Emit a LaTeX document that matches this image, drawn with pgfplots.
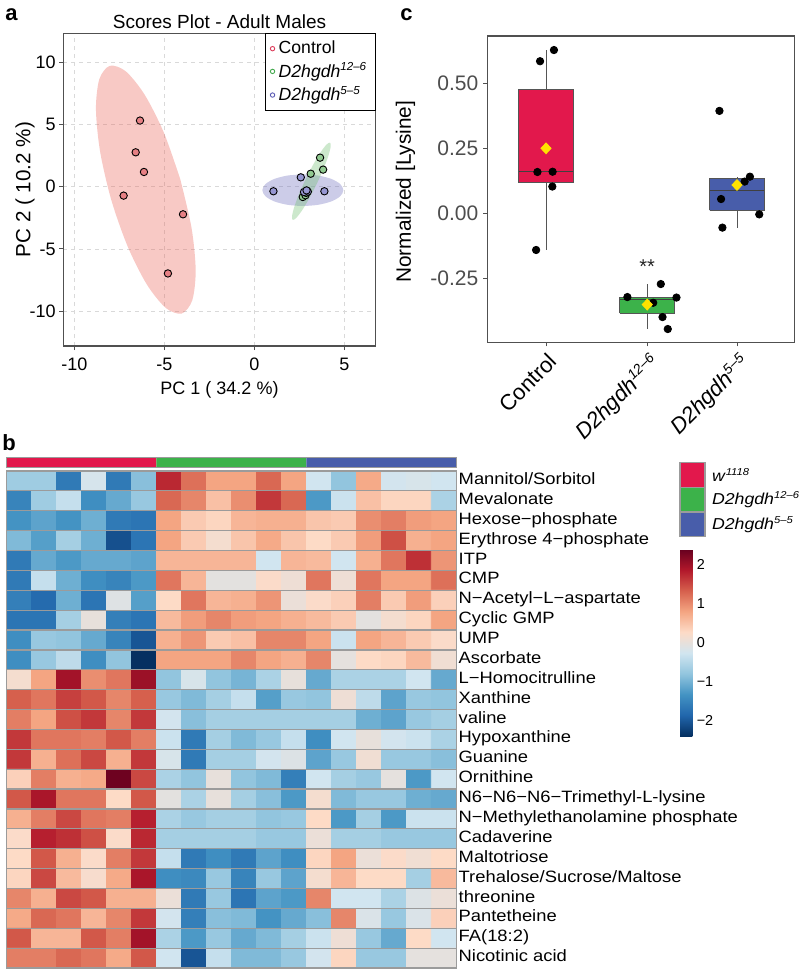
\documentclass[border=0pt]{standalone}
\usepackage{fontspec}
\setmainfont{Liberation Sans}
\newfontfamily\hmfont{Liberation Sans}[FakeStretch=1.12]
\usepackage{pgfplots}
\pgfplotsset{compat=1.18}
\newcommand{\supit}[3]{\raisebox{#1}{\fontsize{#2}{#2}\selectfont\itshape #3}}
\definecolor{grpR}{RGB}{226,24,76}
\definecolor{grpG}{RGB}{60,178,74}
\definecolor{grpB}{RGB}{72,93,170}
\definecolor{ptR}{RGB}{230,128,132}
\definecolor{ptG}{RGB}{145,202,145}
\definecolor{ptB}{RGB}{150,150,210}
\definecolor{elR}{RGB}{234,100,90}
\definecolor{elG}{RGB}{110,190,110}
\definecolor{elB}{RGB}{110,110,190}
\definecolor{lgR}{RGB}{220,60,90}
\definecolor{lgG}{RGB}{70,170,80}
\definecolor{lgB}{RGB}{90,90,180}
\definecolor{frame}{RGB}{80,80,80}
\definecolor{tickgray}{RGB}{77,77,77}
\definecolor{cellgray}{RGB}{155,155,155}
\definecolor{meanY}{RGB}{255,226,0}
\definecolor{boxline}{RGB}{85,85,85}
\begin{document}
\begin{tikzpicture}
\path[use as bounding box] (0pt,0pt) rectangle (400pt,-484.5pt);
\node[anchor=base west, inner sep=0pt, font=\bfseries\fontsize{11}{13}\selectfont] at (2.5pt,-10.4pt) {a};
\node[anchor=base west, inner sep=0pt, font=\bfseries\fontsize{11}{13}\selectfont] at (200pt,-10.4pt) {c};
\node[anchor=base west, inner sep=0pt, font=\bfseries\fontsize{11}{13}\selectfont] at (1pt,-225pt) {b};

% ---------------- Panel a: PCA scores
\begin{axis}[at={(31.65pt,-16.65pt)}, anchor=north west, scale only axis,
  width=156.2pt, height=156.35pt,
  xmin=-10.61, xmax=6.74, ymin=-12.8, ymax=12.32,
  xtick={-10,-5,0,5}, xticklabels={-10,-5,0,5},
  ytick={-10,-5,0,5,10}, yticklabels={-10,-5,0,5,10},
  xtick pos=bottom, ytick pos=left, tick align=outside, major tick length=2pt,
  tick style={frame, line width=0.5pt}, axis line style={frame, line width=0.6pt},
  grid=major, grid style={dash pattern=on 2pt off 2pt, gray!30, line width=0.4pt},
  xticklabel style={font=\fontsize{9}{10}\selectfont, anchor=center, inner sep=0pt, yshift=-7pt},
  yticklabel style={font=\fontsize{9}{10}\selectfont, anchor=east, inner sep=0pt, xshift=-1.6pt},
  title={Scores Plot - Adult Males},
  title style={font=\fontsize{9.5}{11}\selectfont, at={(axis description cs:0.5,1)}, anchor=base, yshift=-3.4pt},
  xlabel={PC 1 ( 34.2 \%)}, ylabel={PC 2 ( 10.2 \%)},
  xlabel style={font=\fontsize{9}{10}\selectfont, at={(axis description cs:0.5,-0.14)}, anchor=center},
  ylabel style={font=\fontsize{10.3}{11}\selectfont, at={(axis description cs:-0.1226,0.5)}, anchor=center},
  legend style={at={(1,1)}, anchor=north east, draw=black, line width=0.5pt, fill=white,
    font=\fontsize{8.8}{10}\selectfont, inner xsep=2.5pt, inner ysep=1.5pt, row sep=-1pt},
  legend cell align=left,
  legend image code/.code={\draw[#1] plot coordinates {(0.12cm,0cm)};},
]
\addlegendimage{only marks, mark=o, mark size=1.1pt, lgR, mark options={line width=0.45pt}}
\addlegendentry{Control}
\addlegendimage{only marks, mark=o, mark size=1.1pt, lgG, mark options={line width=0.45pt}}
\addlegendentry{\textit{D2hgdh}\supit{3.3pt}{5.8pt}{12–6}}
\addlegendimage{only marks, mark=o, mark size=1.1pt, lgB, mark options={line width=0.45pt}}
\addlegendentry{\textit{D2hgdh}\supit{3.3pt}{5.8pt}{5–5}}
% confidence ellipses (outlines)
\addplot[forget plot, fill=elR, fill opacity=0.35, draw=none, smooth] coordinates {
(-4.107,0.565) (-5.017,4.312) (-6.082,7.365) (-7.137,9.261) (-8.024,9.710) (-8.607,8.644)
(-8.797,6.226) (-8.566,2.822) (-7.948,-1.047) (-7.038,-4.794) (-5.974,-7.847) (-4.918,-9.743)
(-4.032,-10.19) (-3.448,-9.126) (-3.258,-6.708) (-3.489,-3.304) (-4.107,0.565)};
\addplot[forget plot, fill=elB, fill opacity=0.35, draw=none, smooth] coordinates {
(2.694,0.989) (1.833,0.892) (1.103,0.617) (0.615,0.205) (0.444,-0.281) (0.615,-0.767)
(1.103,-1.179) (1.833,-1.454) (2.694,-1.551) (3.555,-1.454) (4.285,-1.179) (4.773,-0.767)
(4.944,-0.281) (4.773,0.205) (4.285,0.617) (3.555,0.892) (2.694,0.989)};
\addplot[forget plot, fill=elG, fill opacity=0.35, draw=none, smooth] coordinates {
(3.467,0.224) (3.841,1.428) (4.112,2.480) (4.239,3.222) (4.203,3.538) (4.009,3.382)
(3.687,2.777) (3.286,1.815) (2.866,0.644) (2.492,-0.560) (2.221,-1.613) (2.094,-2.355)
(2.131,-2.671) (2.324,-2.515) (2.647,-1.910) (3.048,-0.948) (3.467,0.224)};
% scores
\addplot[forget plot, only marks, mark=*, mark size=1.85pt, mark options={fill=ptR, draw=black, line width=0.45pt}] coordinates {
(-6.35,5.31) (-6.59,2.76) (-6.13,1.18) (-7.26,-0.72) (-3.96,-2.22) (-4.80,-6.97)};
\addplot[forget plot, only marks, mark=*, mark size=1.85pt, mark options={fill=ptG, draw=black, line width=0.45pt}] coordinates {
(3.65,2.33) (3.82,1.37) (3.13,1.04) (2.69,-0.83) (2.84,-0.69) (2.88,-0.50)};
\addplot[forget plot, only marks, mark=*, mark size=1.85pt, mark options={fill=ptB, draw=black, line width=0.45pt}] coordinates {
(1.06,-0.37) (2.58,0.75) (3.89,-0.37) (2.97,-0.40) (2.76,-0.43) (2.90,-0.30)};
\end{axis}

% ---------------- Panel c: boxplot
\begin{axis}[at={(243.65pt,-18pt)}, anchor=north west, scale only axis,
  width=153.5pt, height=153.15pt,
  xmin=0.385, xmax=3.6, ymin=-0.496, ymax=0.682,
  xtick={1,2.06,3},
  xticklabels={Control,{\textit{D2hgdh}\supit{4pt}{7pt}{12–6}},{\textit{D2hgdh}\supit{4pt}{7pt}{5–5}}},
  ytick={-0.25,0,0.25,0.5}, yticklabels={-0.25,0.00,0.25,0.50},
  xtick pos=bottom, ytick pos=left, tick align=outside, major tick length=2pt,
  tick style={frame, line width=0.5pt}, axis line style={frame, line width=0.6pt},
  yticklabel style={font=\fontsize{10.5}{12}\selectfont, color=tickgray, anchor=east, inner sep=0pt, xshift=-2.3pt},
  xticklabel style={font=\fontsize{11}{12}\selectfont, xshift=0.5pt, yshift=-2.5pt, rotate=45, anchor=north east, inner sep=0pt},
  ylabel={Normalized [Lysine]},
  ylabel style={font=\fontsize{10.4}{12}\selectfont, at={(axis description cs:-0.2664,0.4917)}, anchor=center},
]
% whiskers
\addplot[boxline, line width=0.5pt, unbounded coords=jump] coordinates {
(1,0.478) (1,0.628) (1,nan) (1,0.117) (1,-0.141) (1,nan)
(2.06,-0.324) (2.06,-0.272) (2.06,nan) (2.06,-0.385) (2.06,-0.445) (2.06,nan)
(3,0.133) (3,0.141) (3,nan) (3,0.0115) (3,-0.055)};
% boxes (Q1 to Q3)
\addplot[fill=grpR, draw=boxline, line width=0.5pt] coordinates {
(0.7135,0.117) (1.2865,0.117) (1.2865,0.478) (0.7135,0.478) (0.7135,0.117)};
\addplot[fill=grpG, draw=boxline, line width=0.5pt] coordinates {
(1.7735,-0.385) (2.3465,-0.385) (2.3465,-0.324) (1.7735,-0.324) (1.7735,-0.385)};
\addplot[fill=grpB, draw=boxline, line width=0.5pt] coordinates {
(2.7135,0.0115) (3.2865,0.0115) (3.2865,0.133) (2.7135,0.133) (2.7135,0.0115)};
% medians
\addplot[black!75, line width=0.55pt, unbounded coords=jump] coordinates {
(0.7135,0.160) (1.2865,0.160) (1,nan) (1.7735,-0.333) (2.3465,-0.333) (2,nan) (2.7135,0.087) (3.2865,0.087)};
\addplot[only marks, mark=*, mark size=1.85pt, black] coordinates {
(0.9375,0.585) (1.083,0.628) (0.91,0.159) (1.069,0.160) (1.066,0.103) (0.896,-0.141)
(1.852,-0.322) (2.202,-0.272) (2.1225,-0.344) (2.366,-0.324) (2.22,-0.399) (2.275,-0.445)
(2.816,0.394) (3.135,0.141) (3.08,0.122) (2.833,0.055) (3.233,-0.004) (2.847,-0.055)};
\addplot[only marks, mark=diamond*, mark size=2.7pt, mark options={fill=meanY, draw=meanY, xscale=1.25}] coordinates {
(1,0.25) (2.06,-0.351) (3,0.109)};
\node[font=\fontsize{10}{12}\selectfont, text=black!85] at (axis cs:2.06,-0.205) {**};
\end{axis}

% ---------------- Panel b: annotation bar
\begin{axis}[at={(3.15pt,-228.65pt)}, anchor=north west, scale only axis,
  width=225pt, height=5.2pt, xmin=0.5, xmax=18.5, ymin=0, ymax=1,
  xtick=\empty, ytick=\empty, minor xtick={0.5,1.5,...,18.5},
  grid=minor, minor grid style={cellgray, line width=0.6pt}, minor tick length=0pt,
  axis on top, axis line style={cellgray, line width=0.6pt}]
\addplot[fill=grpR, draw=none] coordinates {(0.5,0) (6.5,0) (6.5,1) (0.5,1) (0.5,0)};
\addplot[fill=grpG, draw=none] coordinates {(6.5,0) (12.5,0) (12.5,1) (6.5,1) (6.5,0)};
\addplot[fill=grpB, draw=none] coordinates {(12.5,0) (18.5,0) (18.5,1) (12.5,1) (12.5,0)};
\end{axis}

% ---------------- Panel b: group legend
\begin{axis}[at={(340pt,-231.35pt)}, anchor=north west, scale only axis,
  width=12.5pt, height=37pt, xmin=0, xmax=1, ymin=0.5, ymax=3.5, y dir=reverse,
  xtick=\empty, ytick={1,2,3},
  yticklabels={{\textit{w}\supit{3.1pt}{5pt}{1118}},{\textit{D2hgdh}\supit{3.1pt}{5pt}{12–6}},{\textit{D2hgdh}\supit{3.1pt}{5pt}{5–5}}},
  yticklabel pos=right, major tick length=0pt, minor tick length=0pt,
  minor ytick={0.5,1.5,2.5,3.5}, grid=minor, minor grid style={cellgray, line width=0.6pt},
  axis on top, axis line style={cellgray, line width=0.6pt},
  yticklabel style={font=\hmfont\fontsize{7.9}{9}\selectfont, anchor=west, inner sep=0pt, xshift=3.35pt}]
\addplot[fill=grpR, draw=none] coordinates {(0,0.5) (1,0.5) (1,1.5) (0,1.5) (0,0.5)};
\addplot[fill=grpG, draw=none] coordinates {(0,1.5) (1,1.5) (1,2.5) (0,2.5) (0,1.5)};
\addplot[fill=grpB, draw=none] coordinates {(0,2.5) (1,2.5) (1,3.5) (0,3.5) (0,2.5)};
\end{axis}

% ---------------- Panel b: heatmap
\begin{axis}[at={(3.15pt,-235.5pt)}, anchor=north west, scale only axis,
  width=225pt, height=248.5pt,
  xmin=0.5, xmax=18.5, ymin=0.5, ymax=25.5, y dir=reverse, enlargelimits=false,
  xtick=\empty, ytick={1,...,25},
  yticklabels={Mannitol/Sorbitol, Mevalonate, Hexose−phosphate, Erythrose 4−phosphate, ITP, CMP,
    N−Acetyl−L−aspartate, Cyclic GMP, UMP, Ascorbate, L−Homocitrulline, Xanthine, valine,
    Hypoxanthine, Guanine, Ornithine, N6−N6−N6−Trimethyl-L-lysine, N−Methylethanolamine phosphate,
    Cadaverine, Maltotriose, Trehalose/Sucrose/Maltose, threonine, Pantetheine, FA(18:2), Nicotinic acid},
  yticklabel pos=right, major tick length=0pt, minor tick length=0pt,
  minor xtick={0.5,1.5,...,18.5}, minor ytick={0.5,1.5,...,25.5},
  grid=minor, minor grid style={cellgray, line width=0.6pt},
  axis on top, axis line style={cellgray, line width=0.6pt},
  typeset ticklabels with strut,
  yticklabel style={font=\hmfont\fontsize{8.2}{9}\selectfont, anchor=west, inner sep=0pt, xshift=1pt},
  colormap={rdbu}{rgb255=(5,48,97) rgb255=(33,102,172) rgb255=(67,147,195) rgb255=(146,197,222)
    rgb255=(209,229,240) rgb255=(253,219,199) rgb255=(244,165,130) rgb255=(214,96,77)
    rgb255=(178,24,43) rgb255=(103,0,31)},
  point meta min=-2.4, point meta max=2.4,
  colorbar,
  colorbar style={at={(parent axis.north east)}, anchor=north west, xshift=103.35pt, yshift=-39.15pt,
    scale only axis, width=6.15pt, height=93.35pt, y dir=normal, grid=none,
    ytick={-2,-1,0,1,2}, yticklabels={−2,−1,0,1,2}, yticklabel pos=right,
    major tick length=0pt, axis line style={draw=none},
    yticklabel style={font=\fontsize{7.2}{8}\selectfont, anchor=west, inner sep=0pt, xshift=2pt}},
]
\addplot[matrix plot*, mesh/cols=18, point meta=explicit] table[x=x, y=y, meta=c, row sep=\\] {
x y c\\
1 1 -0.69\\ 2 1 -0.69\\ 3 1 -1.63\\ 4 1 -0.21\\ 5 1 -1.63\\ 6 1 -0.86\\ 7 1 1.75\\ 8 1 1.21\\ 9 1 0.80\\ 10 1 0.80\\ 11 1 1.27\\ 12 1 0.80\\ 13 1 -0.27\\ 14 1 -0.80\\ 15 1 0.75\\ 16 1 -0.24\\ 17 1 -0.19\\ 18 1 -0.27\\
1 2 -1.51\\ 2 2 -0.69\\ 3 2 -0.37\\ 4 2 -1.39\\ 5 2 -1.10\\ 6 2 -0.75\\ 7 2 1.27\\ 8 2 1.04\\ 9 2 0.53\\ 10 2 0.98\\ 11 2 1.63\\ 12 2 1.27\\ 13 2 -1.27\\ 14 2 -0.32\\ 15 2 0.53\\ 16 2 0.32\\ 17 2 0.32\\ 18 2 -0.59\\
1 3 -1.33\\ 2 3 -1.16\\ 3 3 -1.33\\ 4 3 -1.04\\ 5 3 -1.63\\ 6 3 -1.69\\ 7 3 0.80\\ 8 3 0.43\\ 9 3 0.32\\ 10 3 0.64\\ 11 3 0.69\\ 12 3 0.69\\ 13 3 0.48\\ 14 3 0.43\\ 15 3 0.98\\ 16 3 1.10\\ 17 3 0.86\\ 18 3 0.80\\
1 4 -0.92\\ 2 4 -1.21\\ 3 4 -0.64\\ 4 4 -1.04\\ 5 4 -2.08\\ 6 4 -1.69\\ 7 4 0.80\\ 8 4 0.43\\ 9 4 0.16\\ 10 4 0.48\\ 11 4 0.75\\ 12 4 0.48\\ 13 4 0.27\\ 14 4 0.43\\ 15 4 0.86\\ 16 4 1.45\\ 17 4 0.69\\ 18 4 0.80\\
1 5 -1.63\\ 2 5 -1.10\\ 3 5 -1.27\\ 4 5 -1.10\\ 5 5 -1.10\\ 6 5 -1.16\\ 7 5 0.64\\ 8 5 0.64\\ 9 5 0.64\\ 10 5 0.64\\ 11 5 -0.27\\ 12 5 0.64\\ 13 5 0.59\\ 14 5 -0.27\\ 15 5 0.69\\ 16 5 1.16\\ 17 5 1.69\\ 18 5 0.92\\
1 6 -1.63\\ 2 6 -0.37\\ 3 6 -1.04\\ 4 6 -1.39\\ 5 6 -1.51\\ 6 6 -1.27\\ 7 6 1.16\\ 8 6 0.64\\ 9 6 -0.05\\ 10 6 -0.05\\ 11 6 0.24\\ 12 6 0.08\\ 13 6 1.16\\ 14 6 0.08\\ 15 6 1.16\\ 16 6 0.80\\ 17 6 0.80\\ 18 6 1.21\\
1 7 -1.57\\ 2 7 -1.81\\ 3 7 -1.04\\ 4 7 -1.69\\ 5 7 -0.11\\ 6 7 -1.21\\ 7 7 0.27\\ 8 7 1.16\\ 9 7 0.64\\ 10 7 0.69\\ 11 7 0.92\\ 12 7 0.05\\ 13 7 0.24\\ 14 7 0.37\\ 15 7 1.10\\ 16 7 0.43\\ 17 7 0.86\\ 18 7 0.37\\
1 8 -1.69\\ 2 8 -1.69\\ 3 8 -0.64\\ 4 8 0.00\\ 5 8 -1.57\\ 6 8 -1.69\\ 7 8 0.59\\ 8 8 0.86\\ 9 8 1.04\\ 10 8 0.86\\ 11 8 0.80\\ 12 8 0.69\\ 13 8 0.59\\ 14 8 0.43\\ 15 8 -0.05\\ 16 8 0.16\\ 17 8 0.32\\ 18 8 0.80\\
1 9 -1.39\\ 2 9 -0.75\\ 3 9 -0.80\\ 4 9 -1.10\\ 5 9 -1.51\\ 6 9 -2.03\\ 7 9 0.69\\ 8 9 0.92\\ 9 9 0.43\\ 10 9 0.53\\ 11 9 1.04\\ 12 9 1.04\\ 13 9 0.80\\ 14 9 -0.32\\ 15 9 0.80\\ 16 9 0.64\\ 17 9 0.43\\ 18 9 0.24\\
1 10 -1.39\\ 2 10 -0.75\\ 3 10 -0.43\\ 4 10 -1.39\\ 5 10 -0.80\\ 6 10 -2.40\\ 7 10 0.80\\ 8 10 0.80\\ 9 10 0.80\\ 10 10 1.04\\ 11 10 0.80\\ 12 10 0.69\\ 13 10 1.04\\ 14 10 -0.03\\ 15 10 0.27\\ 16 10 0.32\\ 17 10 0.59\\ 18 10 0.11\\
1 11 0.16\\ 2 11 0.80\\ 3 11 1.97\\ 4 11 0.98\\ 5 11 1.16\\ 6 11 2.03\\ 7 11 -0.80\\ 8 11 -0.19\\ 9 11 -0.80\\ 10 11 -0.98\\ 11 11 -0.59\\ 12 11 0.00\\ 13 11 -1.10\\ 14 11 -0.59\\ 15 11 -0.59\\ 16 11 -0.59\\ 17 11 -0.27\\ 18 11 -1.10\\
1 12 1.33\\ 2 12 1.16\\ 3 12 1.57\\ 4 12 1.39\\ 5 12 1.04\\ 6 12 1.33\\ 7 12 -0.75\\ 8 12 -0.92\\ 9 12 -0.64\\ 10 12 -0.37\\ 11 12 -1.21\\ 12 12 -0.75\\ 13 12 -0.80\\ 14 12 0.08\\ 15 12 -0.43\\ 16 12 -1.16\\ 17 12 -0.75\\ 18 12 -0.80\\
1 13 1.10\\ 2 13 0.80\\ 3 13 1.45\\ 4 13 1.63\\ 5 13 1.04\\ 6 13 1.63\\ 7 13 -0.24\\ 8 13 -0.86\\ 9 13 -0.64\\ 10 13 -0.64\\ 11 13 -0.64\\ 12 13 -0.64\\ 13 13 -0.64\\ 14 13 -0.64\\ 15 13 -1.04\\ 16 13 -1.16\\ 17 13 -0.75\\ 18 13 -0.64\\
1 14 1.63\\ 2 14 1.16\\ 3 14 1.16\\ 4 14 1.10\\ 5 14 1.39\\ 6 14 1.10\\ 7 14 -0.32\\ 8 14 -1.63\\ 9 14 -0.64\\ 10 14 -0.92\\ 11 14 -0.75\\ 12 14 -0.37\\ 13 14 -1.39\\ 14 14 -0.27\\ 15 14 0.00\\ 16 14 -0.24\\ 17 14 -0.32\\ 18 14 -0.59\\
1 15 1.63\\ 2 15 0.69\\ 3 15 1.21\\ 4 15 1.51\\ 5 15 0.69\\ 6 15 1.63\\ 7 15 -0.19\\ 8 15 -1.63\\ 9 15 -0.64\\ 10 15 -0.64\\ 11 15 -0.24\\ 12 15 -0.13\\ 13 15 -1.16\\ 14 15 -0.75\\ 15 15 0.11\\ 16 15 -0.75\\ 17 15 -0.75\\ 18 15 -0.86\\
1 16 0.37\\ 2 16 1.10\\ 3 16 0.69\\ 4 16 0.75\\ 5 16 2.35\\ 6 16 1.51\\ 7 16 -0.59\\ 8 16 -0.80\\ 9 16 0.00\\ 10 16 -0.80\\ 11 16 -0.92\\ 12 16 -1.57\\ 13 16 -0.27\\ 14 16 -0.64\\ 15 16 -0.75\\ 16 16 -0.03\\ 17 16 -1.27\\ 18 16 -0.27\\
1 17 1.39\\ 2 17 1.92\\ 3 17 1.16\\ 4 17 1.16\\ 5 17 0.27\\ 6 17 1.39\\ 7 17 -0.05\\ 8 17 -0.59\\ 9 17 0.00\\ 10 17 -0.64\\ 11 17 -0.86\\ 12 17 -1.27\\ 13 17 0.16\\ 14 17 -0.92\\ 15 17 -0.75\\ 16 17 -0.75\\ 17 17 -1.04\\ 18 17 -1.10\\
1 18 0.69\\ 2 18 1.10\\ 3 18 1.51\\ 4 18 1.16\\ 5 18 1.10\\ 6 18 1.81\\ 7 18 -0.59\\ 8 18 -0.75\\ 9 18 -0.64\\ 10 18 -0.64\\ 11 18 -0.80\\ 12 18 -0.75\\ 13 18 0.27\\ 14 18 -1.27\\ 15 18 -0.64\\ 16 18 -1.27\\ 17 18 -0.32\\ 18 18 -0.32\\
1 19 0.24\\ 2 19 1.81\\ 3 19 1.69\\ 4 19 1.45\\ 5 19 0.24\\ 6 19 1.75\\ 7 19 -0.64\\ 8 19 -0.64\\ 9 19 -0.64\\ 10 19 -0.64\\ 11 19 -0.75\\ 12 19 -0.75\\ 13 19 0.05\\ 14 19 -0.64\\ 15 19 -0.64\\ 16 19 -0.75\\ 17 19 -0.75\\ 18 19 -0.75\\
1 20 0.27\\ 2 20 1.39\\ 3 20 0.69\\ 4 20 0.24\\ 5 20 1.10\\ 6 20 1.63\\ 7 20 -0.37\\ 8 20 -1.63\\ 9 20 -1.39\\ 10 20 -1.63\\ 11 20 -1.16\\ 12 20 -1.39\\ 13 20 0.32\\ 14 20 0.80\\ 15 20 0.05\\ 16 20 0.24\\ 17 20 0.11\\ 18 20 0.27\\
1 21 0.32\\ 2 21 1.51\\ 3 21 0.59\\ 4 21 0.19\\ 5 21 0.75\\ 6 21 1.92\\ 7 21 -1.39\\ 8 21 -1.45\\ 9 21 -0.75\\ 10 21 -1.51\\ 11 21 -0.75\\ 12 21 -1.16\\ 13 21 0.16\\ 14 21 0.64\\ 15 21 0.27\\ 16 21 0.27\\ 17 21 -0.64\\ 18 21 0.59\\
1 22 1.04\\ 2 22 0.69\\ 3 22 1.51\\ 4 22 1.39\\ 5 22 0.69\\ 6 22 0.69\\ 7 22 0.05\\ 8 22 -1.63\\ 9 22 -0.75\\ 10 22 -1.69\\ 11 22 -1.16\\ 12 22 -1.27\\ 13 22 1.04\\ 14 22 -0.27\\ 15 22 -0.27\\ 16 22 -0.59\\ 17 22 -0.13\\ 18 22 0.05\\
1 23 0.75\\ 2 23 1.27\\ 3 23 1.16\\ 4 23 0.64\\ 5 23 1.04\\ 6 23 1.63\\ 7 23 -0.24\\ 8 23 -1.57\\ 9 23 -0.86\\ 10 23 -0.92\\ 11 23 -1.33\\ 12 23 -1.10\\ 13 23 -0.86\\ 14 23 1.04\\ 15 23 -0.16\\ 16 23 -0.75\\ 17 23 -0.16\\ 18 23 0.37\\
1 24 1.39\\ 2 24 0.64\\ 3 24 0.64\\ 4 24 1.39\\ 5 24 1.10\\ 6 24 1.97\\ 7 24 -0.59\\ 8 24 -1.27\\ 9 24 -0.75\\ 10 24 -1.10\\ 11 24 -0.92\\ 12 24 -0.64\\ 13 24 -0.32\\ 14 24 0.08\\ 15 24 -0.75\\ 16 24 -1.10\\ 17 24 0.27\\ 18 24 -0.27\\
1 25 1.10\\ 2 25 1.10\\ 3 25 1.27\\ 4 25 1.16\\ 5 25 0.75\\ 6 25 1.39\\ 7 25 -0.27\\ 8 25 -2.03\\ 9 25 -0.37\\ 10 25 -0.92\\ 11 25 -0.92\\ 12 25 -0.75\\ 13 25 -0.24\\ 14 25 0.32\\ 15 25 -0.75\\ 16 25 -0.75\\ 17 25 -0.03\\ 18 25 -0.03\\
};
\end{axis}
\end{tikzpicture}
\end{document}
